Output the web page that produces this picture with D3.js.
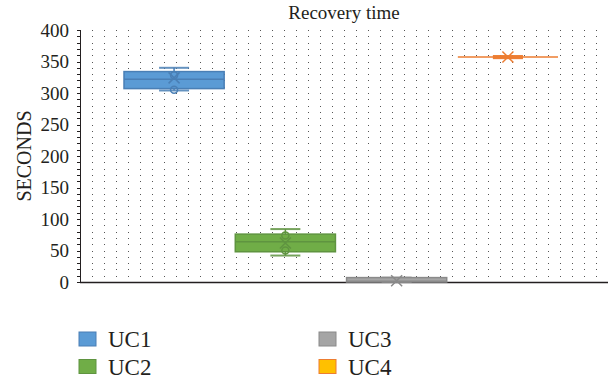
<!DOCTYPE html>
<html lang="en">
<head>
    <meta charset="UTF-8">
    <title>Recovery time</title>
    <script src="https://cdn.jsdelivr.net/npm/d3@7"></script>
</head>
<style>
    body { margin: 0; background: #fff; }
    svg text { font-family: "Liberation Serif", "DejaVu Serif", serif !important; fill: #231f20; }
    .grid line { stroke: #555; stroke-width: 1; stroke-dasharray: 1 11; shape-rendering: crispEdges; }
    .axis path, .axis line { fill: none; stroke: #231f20; shape-rendering: crispEdges; }
</style>
<body>
<svg class="chart"></svg>
<script>
    // data
    var series = ["UC1", "UC2", "UC3", "UC4"]
    var minVals = [304, 42, 0, 357]
    var q1Vals = [307, 48, 0, 357]
    var medianVals = [322, 64, 1, 357]
    var q3Vals = [334, 76, 7, 357]
    var maxVals = [340, 84, 7, 357]
    var meanVals = [324, 62, 2, 357]
    var innerPoints = [[328, 305], [74, 50], [], []]
    var yTicks = [0, 50, 100, 150, 200, 250, 300, 350, 400]

    var fills = ["#5b9bd5", "#70ad47", "#a5a5a5", "#ffc000"]
    var strokes = ["#4a7fb5", "#5f9440", "#8a8a8a", "#ed7d31"]
    var serif = '"Liberation Serif", "DejaVu Serif", serif'

    var width = 610, height = 381
    var margin = {top: 30, right: 2, bottom: 99, left: 80}

    var svg = d3.select('.chart').attr('width', width).attr('height', height)

    var yScale = d3.scaleLinear()
    .domain([0, 400])
    .range([height - margin.bottom, margin.top])

    var xScale = d3.scaleBand()
    .domain(series)
    .range([margin.left + 44, width - margin.right - 50])
    .paddingInner(0.1)

    //点状网格
    var grid = svg.append('g').attr('class', 'grid')
    grid.selectAll('line')
    .data(d3.range(10, 401, 10))
    .enter()
    .append('line')
    .attr('x1', margin.left)
    .attr('x2', width - margin.right - 11)
    .attr('y1', function (d) { return Math.round(yScale(d)) + 0.5 })
    .attr('y2', function (d) { return Math.round(yScale(d)) + 0.5 })

    //坐标轴
    var yMinor = d3.axisLeft(yScale).tickValues(d3.range(0, 401, 10)).tickSize(3).tickFormat('')
    svg.append('g').attr('class', 'axis')
    .attr('transform', 'translate(' + margin.left + ',0)')
    .call(yMinor)
    .call(function (g) { g.select('.domain').attr('stroke-width', 1.5) })

    var yAxis = d3.axisLeft(yScale).tickValues(yTicks).tickSize(0).tickPadding(11)
    svg.append('g')
    .attr('transform', 'translate(' + margin.left + ',0)')
    .attr('font-family', serif)
    .call(yAxis)
    .call(function (g) { g.select('.domain').remove() })
    .attr('font-family', serif)
    .attr('font-size', 19)
    .selectAll('text')
    .attr('fill', '#231f20')

    svg.append('line')
    .attr('x1', margin.left).attr('x2', width - margin.right)
    .attr('y1', yScale(0) + 0.5).attr('y2', yScale(0) + 0.5)
    .attr('stroke', '#231f20').attr('stroke-width', 1.5)

    //箱线图
    var boxes = svg.selectAll('.box')
    .data(series)
    .enter()
    .append('g')
    .attr('class', 'box')

    var capW = 30
    boxes.each(function (d, i) {
        var g = d3.select(this)
        var cx = xScale(d) + xScale.bandwidth() / 2
        var col = strokes[i]
        // whiskers
        g.append('line')
        .attr('x1', cx).attr('x2', cx)
        .attr('y1', yScale(maxVals[i])).attr('y2', yScale(minVals[i]))
        .attr('stroke', col).attr('stroke-width', 1.5)
        g.selectAll('.cap')
        .data([minVals[i], maxVals[i]])
        .enter()
        .append('line')
        .attr('x1', cx - capW / 2).attr('x2', cx + capW / 2)
        .attr('y1', function (v) { return yScale(v) }).attr('y2', function (v) { return yScale(v) })
        .attr('stroke', col).attr('stroke-width', i === 3 ? 4 : 2)
        .attr('opacity', 0.85)
        // box
        g.append('rect')
        .attr('x', xScale(d))
        .attr('width', xScale.bandwidth())
        .attr('y', yScale(q3Vals[i]))
        .attr('height', yScale(q1Vals[i]) - yScale(q3Vals[i]))
        .attr('fill', fills[i])
        .attr('stroke', col)
        .attr('stroke-width', 1.5)
        // median
        g.append('line')
        .attr('x1', xScale(d)).attr('x2', xScale(d) + xScale.bandwidth())
        .attr('y1', yScale(medianVals[i])).attr('y2', yScale(medianVals[i]))
        .attr('stroke', col).attr('stroke-width', 1.5)
        // inner points
        g.selectAll('circle')
        .data(innerPoints[i])
        .enter()
        .append('circle')
        .attr('cx', cx)
        .attr('cy', function (v) { return yScale(v) })
        .attr('r', 3.5)
        .attr('fill', 'none')
        .attr('stroke', col)
        .attr('stroke-width', 1.5)
        // mean marker
        var my = yScale(meanVals[i]), s = 5.5
        g.append('path')
        .attr('d', 'M' + (cx - s) + ',' + (my - s) + 'L' + (cx + s) + ',' + (my + s) +
            'M' + (cx + s) + ',' + (my - s) + 'L' + (cx - s) + ',' + (my + s))
        .attr('stroke', col)
        .attr('stroke-width', 1.5)
        .attr('fill', 'none')
    })

    //标题
    svg.append('text')
    .attr('x', 344)
    .attr('y', 19)
    .attr('text-anchor', 'middle')
    .attr('font-family', serif)
    .attr('font-size', 19)
    .text('Recovery time')

    svg.append('text')
    .attr('transform', 'translate(31,' + yScale(200) + ') rotate(-90)')
    .attr('text-anchor', 'middle')
    .attr('font-family', serif)
    .attr('font-size', 20)
    .text('SECONDS')

    //图例
    var legend = svg.selectAll('.legend')
    .data(series)
    .enter()
    .append('g')
    .attr('class', 'legend')
    .attr('transform', function (d, i) {
        return 'translate(' + (79 + Math.floor(i / 2) * 240) + ',' + (332 + (i % 2) * 27.5) + ')'
    })

    legend.append('rect')
    .attr('width', 17)
    .attr('height', 14)
    .attr('fill', function (d, i) { return fills[i] })
    .attr('stroke', function (d, i) { return strokes[i] })
    .attr('stroke-width', 1)

    legend.append('text')
    .attr('x', 29)
    .attr('y', 15)
    .attr('font-family', serif)
    .attr('font-size', 23)
    .text(function (d) { return d })
</script>
</body>
</html>
